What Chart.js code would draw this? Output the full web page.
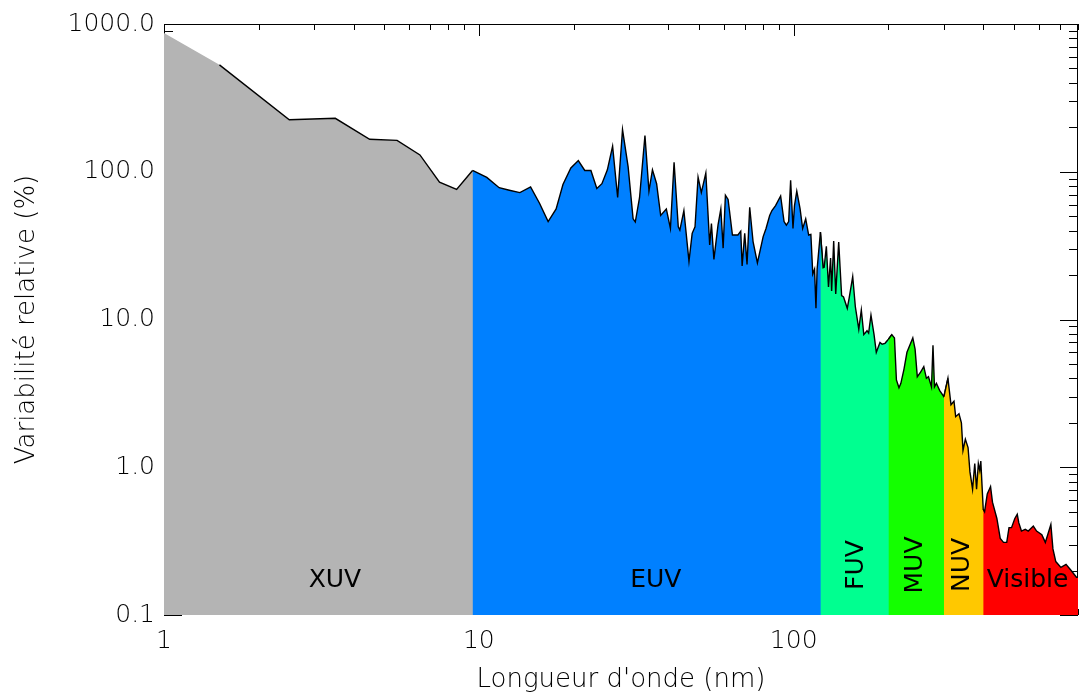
<!DOCTYPE html>
<html>
<head>
<meta charset="utf-8">
<script src="https://cdn.jsdelivr.net/npm/chart.js@4.4.1/dist/chart.umd.min.js"></script>
<style>
  html, body { margin: 0; padding: 0; background: #fff; }
</style>
</head>
<body>
<canvas id="chart" width="1079" height="692"></canvas>
<script>
// --- data (wavelength in nm, relative variability in %) ---
const xuvWl  = [1.0, 1.5, 2.5, 3.5, 4.5, 5.5, 6.5, 7.5, 8.5, 9.55];
const xuvVal = [870, 529, 225, 230, 166, 163, 130, 85, 76, 102];

const euvWl  = [9.55, 10.6, 11.6, 12.5, 13.5, 14.6, 15.6, 16.6, 17.6, 18.5, 19.6, 20.7, 21.7, 22.7, 23.7, 24.6,
                25.6, 26.6, 27.6, 28.6, 29.8, 30.9, 31.4, 32.4, 33.7, 34.7, 35.6, 36.7, 37.8, 39.4, 40.6, 41.7,
                43.0, 43.5, 44.8, 46.5, 47.6, 48.6, 49.7, 50.9, 52.6, 54.1, 54.8, 55.8, 57.5, 58.7, 59.7, 60.7,
                61.9, 63.9, 66.5, 67.9, 68.6, 69.9, 71.1, 72.5, 74.3, 76.7, 80.0, 81.7, 83.9, 85.3, 87.6, 90.9,
                93.2, 94.8, 96.4, 97.8, 99.5, 100.6, 102.3, 104.8, 106.8, 109.2, 111.6, 113.4, 115, 116.5, 117.7,
                118.7, 121.6];
const euvVal = [102, 91.6, 78, 75, 72.3, 79, 61, 46, 56, 82, 106, 119, 102, 102, 77, 83,
                103, 149, 67, 193, 108, 48, 45.7, 67, 176, 74, 103, 83, 50.6, 56, 41.3, 116,
                42.4, 40.3, 54.6, 24.8, 38.3, 42.4, 92, 72.3, 98, 32, 44.6, 25.5, 43.5, 56, 30.4, 69.3,
                65, 37.3, 37.3, 39.6, 23, 38.3, 23.6, 57.5, 33.7, 24.2, 36.4, 41.3, 50.6, 54.6, 59, 68.5,
                46, 43.5, 46, 87.5, 41.3, 59, 74, 56, 41.3, 48, 37.3, 37.7, 20.3, 21.9, 11.9,
                21.9, 39];

const fuvWl  = [121.6, 124, 125, 127, 129, 131, 132, 134, 136, 139, 142, 144, 148, 150, 154, 157, 161, 164,
                167, 171, 173, 176, 180, 183, 188, 191, 195, 200];
const fuvVal = [39, 22.4, 22.6, 31.3, 16.6, 26.1, 15.6, 34, 14.9, 33.4, 14.5, 14.2, 11.9, 13.9, 19.5, 12.2, 8.6, 11.6,
                7.9, 8.4, 8.1, 10.7, 7.9, 6.0, 7.0, 6.8, 6.9, 7.35];

const muvWl  = [200, 205, 209, 212, 216, 219, 224, 229, 239, 243, 247, 253, 259, 264, 268, 274, 277, 280, 284, 291, 300];
const muvVal = [7.35, 7.9, 7.5, 3.9, 3.45, 3.7, 4.6, 6.0, 7.5, 6.3, 4.1, 4.4, 4.8, 4.0, 4.1, 3.5, 6.7, 3.5, 3.7, 3.3, 3.0];

const nuvWl  = [300, 309, 316, 323, 327, 335, 341, 345, 351, 358, 363, 370, 376, 381, 386, 390, 393, 400];
const nuvVal = [3.0, 4.0, 2.65, 2.8, 2.2, 2.3, 2.0, 1.3, 1.55, 1.36, 0.93, 0.71, 1.06, 0.71, 1.06, 0.95, 1.1, 0.52];

const visWl  = [400, 404, 412, 422, 428, 442, 453, 464, 475, 483, 492, 504, 513, 519, 529, 544, 556, 577, 591,
                614, 630, 656, 666, 680, 706, 733, 761, 791, 800];
const visVal = [0.52, 0.50, 0.66, 0.74, 0.58, 0.45, 0.33, 0.31, 0.31, 0.39, 0.39, 0.45, 0.48, 0.42, 0.37, 0.38, 0.37, 0.40, 0.37,
                0.35, 0.31, 0.41, 0.28, 0.23, 0.21, 0.22, 0.20, 0.18, 0.18];

const bandNames  = ['XUV', 'EUV', 'FUV', 'MUV', 'NUV', 'Visible'];
const bandColors = ['#b4b4b4', '#0080ff', '#00ff90', '#14ff00', '#ffc800', '#ff0000'];
// where the band names sit (data coordinates)
const nameWl  = [3.49, 36.5, 158.6, 244, 344, 553];
const nameVal = [0.17, 0.17, 0.218, 0.218, 0.218, 0.17];
const nameVertical = [false, false, true, true, true, false];

const xMajor = [1, 10, 100];
const xMinor = [2,3,4,5,6,7,8,9, 20,30,40,50,60,70,80,90, 200,300,400,500,600,700,800];
const yMajor = [0.1, 1, 10, 100, 1000];
const yMinor = [0.2,0.3,0.4,0.5,0.6,0.7,0.8,0.9, 2,3,4,5,6,7,8,9, 20,30,40,50,60,70,80,90, 200,300,400,500,600,700,800,900];

const FONT = '"DejaVu Sans", sans-serif';

function pts(wl, val) {
  return wl.map((w, i) => ({ x: w, y: val[i] }));
}

const bands = [[xuvWl, xuvVal], [euvWl, euvVal], [fuvWl, fuvVal], [muvWl, muvVal], [nuvWl, nuvVal], [visWl, visVal]];

// each band's fill runs one point into the next band; the next band is drawn on top
// (lower order) and hides the overlap, so no white seam shows at the boundary
const datasets = bands.map((b, i) => {
  const data = pts(b[0], b[1]);
  if (i < bands.length - 1) data.push({ x: bands[i + 1][0][1], y: bands[i + 1][1][1] });
  return {
    label: bandNames[i],
    data: data,
    order: -i,
    backgroundColor: bandColors[i],
    borderColor: '#000',
    borderWidth: i === 0 ? 0 : 1.4,
    pointRadius: 0,
    tension: 0,
    fill: 'start'
  };
});
// XUV outline (the reference leaves the first segment without a black line)
datasets.push({
  label: 'XUV outline',
  data: pts(xuvWl.slice(1), xuvVal.slice(1)),
  order: -10,
  borderColor: '#000',
  borderWidth: 1.4,
  pointRadius: 0,
  tension: 0,
  fill: false
});

// frame with inward IDL-style ticks, drawn before the fills so they cover it
const frameTicks = {
  id: 'frameTicks',
  beforeDatasetsDraw(chart) {
    const { ctx, chartArea: a, scales: { x, y } } = chart;
    ctx.save();
    ctx.strokeStyle = '#000';
    ctx.lineWidth = 1;
    ctx.strokeRect(a.left + 0.5, a.top + 0.5, a.right - a.left - 1, a.bottom - a.top - 1);
    ctx.beginPath();
    const xt = (v, len) => {
      const p = Math.round(x.getPixelForValue(v)) + 0.5;
      ctx.moveTo(p, a.top); ctx.lineTo(p, a.top + len);
      ctx.moveTo(p, a.bottom); ctx.lineTo(p, a.bottom - len);
    };
    const yt = (v, len) => {
      const p = Math.round(y.getPixelForValue(v)) + 0.5;
      ctx.moveTo(a.left, p); ctx.lineTo(a.left + len, p);
      ctx.moveTo(a.right, p); ctx.lineTo(a.right - len, p);
    };
    xMinor.forEach(v => xt(v, 6));
    xMajor.forEach(v => xt(v, 12));
    yMinor.forEach(v => yt(v, 9));
    yMajor.forEach(v => yt(v, 18));
    ctx.stroke();
    ctx.restore();
  }
};

const bandLabels = {
  id: 'bandLabels',
  afterDatasetsDraw(chart) {
    const { ctx, scales: { x, y } } = chart;
    ctx.save();
    ctx.fillStyle = '#000';
    ctx.font = '25px ' + FONT;
    ctx.textAlign = 'center';
    ctx.textBaseline = 'middle';
    bandNames.forEach((n, i) => {
      const px = x.getPixelForValue(nameWl[i]);
      const py = y.getPixelForValue(nameVal[i]);
      ctx.save();
      ctx.translate(px, py);
      if (nameVertical[i]) ctx.rotate(-Math.PI / 2);
      ctx.fillText(n, 0, 0);
      ctx.restore();
    });
    ctx.restore();
  }
};

const ctx = document.getElementById('chart').getContext('2d');
const myChart = new Chart(ctx, {
  type: 'line',
  data: { datasets: datasets },
  options: {
    responsive: false,
    animation: false,
    devicePixelRatio: 1,
    layout: { padding: { top: 11, right: 1, left: 0, bottom: 0 } },
    plugins: { legend: { display: false }, tooltip: { enabled: false } },
    scales: {
      x: {
        type: 'logarithmic',
        min: 1,
        max: 800,
        grid: { display: false, drawTicks: false },
        border: { display: false },
        afterBuildTicks: s => { s.ticks = xMajor.map(v => ({ value: v })); },
        afterFit: s => { s.height = 77; },
        ticks: {
          autoSkip: false,
          maxRotation: 0,
          padding: 11,
          color: '#000',
          font: { family: FONT, size: 25, weight: 200 },
          callback: v => String(v)
        },
        title: {
          display: true,
          text: "Longueur d'onde (nm)",
          color: '#000',
          padding: { top: 0, bottom: -4 },
          font: { family: FONT, size: 26, weight: 200 }
        }
      },
      y: {
        type: 'logarithmic',
        min: 0.1,
        max: 1000,
        grid: { display: false, drawTicks: false },
        border: { display: false },
        afterBuildTicks: s => { s.ticks = yMajor.map(v => ({ value: v })); },
        afterFit: s => { s.width = 164; },
        ticks: {
          autoSkip: false,
          padding: 9,
          color: '#000',
          font: { family: FONT, size: 25, weight: 200 },
          callback: v => Number(v).toFixed(1)
        },
        title: {
          display: true,
          text: 'Variabilité relative (%)',
          color: '#000',
          padding: { top: 12, bottom: 0 },
          font: { family: FONT, size: 26, weight: 200 }
        }
      }
    }
  },
  plugins: [frameTicks, bandLabels]
});
</script>
</body>
</html>
